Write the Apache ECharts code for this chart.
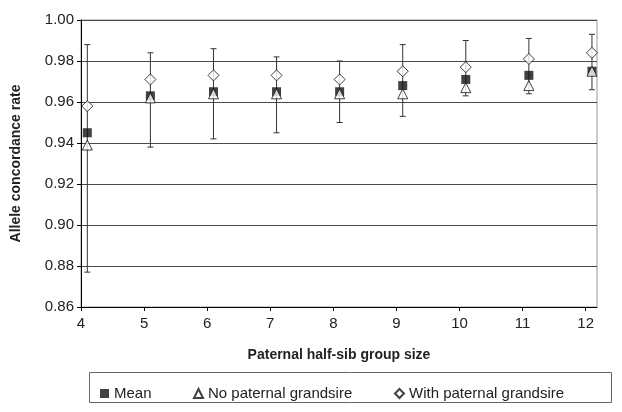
<!DOCTYPE html>
<html>
<head>
<meta charset="utf-8">
<script src="https://cdn.jsdelivr.net/npm/echarts@6/dist/echarts.min.js"></script>
<style>
  html, body { margin: 0; padding: 0; background: #fff; }
  #chart { width: 622px; height: 412px; }
</style>
</head>
<body>
<div id="chart"></div>
<script>
// paternal half-sib group sizes
var groupSize = [4, 5, 6, 7, 8, 9, 10, 11, 12]
var meanRate = [0.945, 0.963, 0.965, 0.965, 0.965, 0.968, 0.971, 0.973, 0.975]
var noGrandsire = [0.939, 0.962, 0.964, 0.964, 0.964, 0.964, 0.967, 0.968, 0.975]
var withGrandsire = [0.958, 0.971, 0.973, 0.973, 0.971, 0.975, 0.977, 0.981, 0.984]
var barLow = [0.877, 0.938, 0.942, 0.945, 0.950, 0.953, 0.963, 0.964, 0.966]
var barHigh = [0.988, 0.984, 0.986, 0.982, 0.980, 0.988, 0.990, 0.991, 0.993]
var yTicks = [0.86, 0.88, 0.90, 0.92, 0.94, 0.96, 0.98, 1.00]

// points sit a little right of the tick in the original
var shift = 0.1
var font = 'Liberation Sans, Arial, sans-serif'

function pts(vals) {
  return vals.map(function (v, i) { return [groupSize[i] + shift, v] })
}

var chart = echarts.init(document.getElementById('chart'))

chart.setOption({
  animation: false,
  backgroundColor: '#fff',
  grid: {
    left: 81, right: 25, top: 20, bottom: 105,
    show: true, borderColor: '#999', borderWidth: 1
  },
  xAxis: {
    type: 'value',
    min: 4,
    max: 12.18,
    interval: 1,
    name: 'Paternal half-sib group size',
    nameLocation: 'middle',
    nameGap: 41,
    nameTextStyle: { fontFamily: font, fontSize: 14, fontWeight: 'bold', color: '#222' },
    axisLine: { lineStyle: { color: '#000', width: 1 } },
    axisTick: { show: true, length: 4, lineStyle: { color: '#000' } },
    axisLabel: {
      fontFamily: font, fontSize: 15, color: '#222', margin: 9,
      showMaxLabel: false,
      formatter: function (v) { return Math.abs(v - Math.round(v)) < 1e-6 ? String(Math.round(v)) : '' }
    },
    splitLine: { show: false }
  },
  yAxis: {
    type: 'value',
    min: yTicks[0],
    max: yTicks[yTicks.length - 1],
    interval: 0.02,
    name: 'Allele concordance rate',
    nameLocation: 'middle',
    nameGap: 58,
    nameTextStyle: { fontFamily: font, fontSize: 14, fontWeight: 'bold', color: '#222' },
    axisLine: { show: true, lineStyle: { color: '#000', width: 1 } },
    axisTick: { show: true, length: 4, lineStyle: { color: '#000' } },
    axisLabel: {
      fontFamily: font, fontSize: 15, color: '#222', margin: 7,
      formatter: function (v) { return v.toFixed(2) }
    },
    splitLine: { show: true, lineStyle: { color: '#4a4a4a', width: 1 } }
  },
  legend: [
    { data: ['Mean'], left: 95, top: 381 },
    { data: ['No paternal grandsire'], left: 188, top: 381 },
    { data: ['With paternal grandsire'], left: 389, top: 381 }
  ].map(function (l) {
    l.orient = 'horizontal'
    l.itemWidth = 9
    l.itemHeight = 9
    l.textStyle = { fontFamily: font, fontSize: 15, color: '#222' }
    l.selectedMode = false
    return l
  }),
  graphic: [{
    type: 'rect',
    shape: { x: 89.5, y: 372.5, width: 522, height: 30 },
    style: { fill: 'none', stroke: '#666', lineWidth: 1 },
    silent: true
  }],
  series: [
    {
      type: 'custom',
      name: 'range',
      data: groupSize.map(function (g, i) { return [g + shift, barLow[i], barHigh[i]] }),
      renderItem: function (params, api) {
        var lo = api.coord([api.value(0), api.value(1)])
        var hi = api.coord([api.value(0), api.value(2)])
        var cap = 3
        var st = { stroke: '#333', lineWidth: 1 }
        return {
          type: 'group',
          children: [
            { type: 'line', shape: { x1: hi[0], y1: hi[1], x2: lo[0], y2: lo[1] }, style: st },
            { type: 'line', shape: { x1: hi[0] - cap, y1: hi[1], x2: hi[0] + cap, y2: hi[1] }, style: st },
            { type: 'line', shape: { x1: lo[0] - cap, y1: lo[1], x2: lo[0] + cap, y2: lo[1] }, style: st }
          ]
        }
      },
      z: 1
    },
    {
      type: 'scatter',
      name: 'Mean',
      data: pts(meanRate),
      symbol: 'rect',
      symbolSize: 9,
      itemStyle: { color: '#111' },
      z: 2
    },
    {
      type: 'scatter',
      name: 'No paternal grandsire',
      data: pts(noGrandsire),
      symbol: 'triangle',
      symbolSize: 10,
      itemStyle: { color: '#fff', borderColor: '#111', borderWidth: 1 },
      z: 3
    },
    {
      type: 'scatter',
      name: 'With paternal grandsire',
      data: pts(withGrandsire),
      symbol: 'diamond',
      symbolSize: 11,
      itemStyle: { color: '#fff', borderColor: '#111', borderWidth: 1 },
      z: 4
    }
  ]
})
</script>
</body>
</html>
